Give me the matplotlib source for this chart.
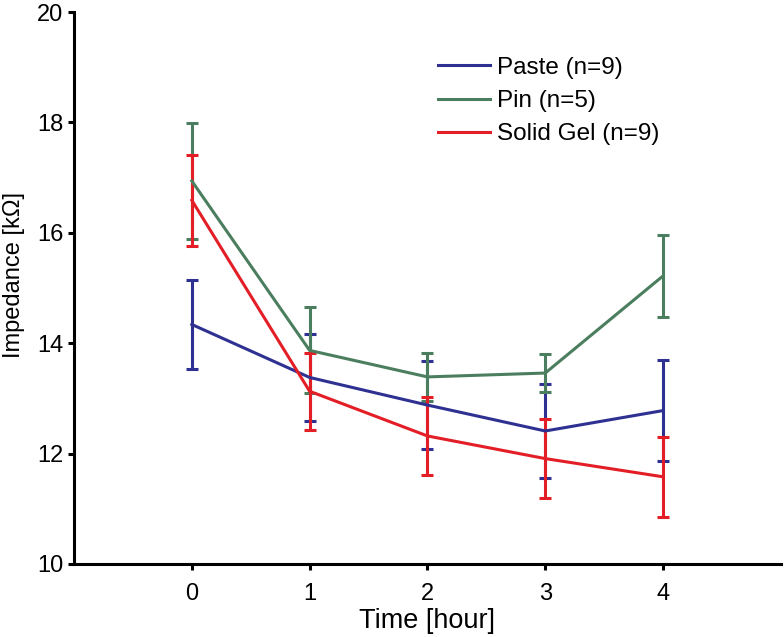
import matplotlib
matplotlib.use("Agg")
import matplotlib.pyplot as plt

plt.rcParams['font.family'] = ['Liberation Sans', 'DejaVu Sans']

# data
hours = [0, 1, 2, 3, 4]
paste_mean = [14.34, 13.38, 12.88, 12.41, 12.78]
paste_err = [0.81, 0.78, 0.80, 0.85, 0.91]
pin_mean = [16.94, 13.87, 13.39, 13.46, 15.22]
pin_err = [1.05, 0.78, 0.43, 0.35, 0.74]
gel_mean = [16.59, 13.13, 12.32, 11.91, 11.58]
gel_err = [0.82, 0.70, 0.71, 0.71, 0.72]

series = [
    ("Paste (n=9)", paste_mean, paste_err, '#2E3192'),
    ("Pin (n=5)", pin_mean, pin_err, '#4B7E5F'),
    ("Solid Gel (n=9)", gel_mean, gel_err, '#E41E26'),
]

fig = plt.figure(figsize=(7.84, 6.37), dpi=100)
ax = fig.add_axes([0.0944, 0.1146, 0.9016, 0.8664])

for label, mean, err, color in series:
    ax.errorbar(hours, mean, yerr=err, color=color, linewidth=2.2,
                elinewidth=2.2, capsize=4, capthick=2.2, label=label)

ax.set_xlim(-1, 5)
ax.set_ylim(10, 20)
ax.set_xticks(hours)
ax.set_yticks([10, 12, 14, 16, 18, 20])

ax.spines['top'].set_visible(False)
ax.spines['right'].set_visible(False)
ax.spines['left'].set_linewidth(2.2)
ax.spines['bottom'].set_linewidth(2.2)
ax.tick_params(axis='both', width=2.2, length=4.5, labelsize=17)
ax.tick_params(axis='x', pad=9)
ax.tick_params(axis='y', pad=3)

ax.set_xlabel('Time [hour]', fontsize=19.5, labelpad=2)
ax.set_ylabel('Impedance [kΩ]', fontsize=17)
ax.yaxis.set_label_coords(-0.069, 0.524)

handles, labels = ax.get_legend_handles_labels()
handles = [h[0] for h in handles]
ax.legend(handles, labels, loc='upper left', bbox_to_anchor=(0.501, 0.937),
          frameon=False, fontsize=17.5, handlelength=2.15, handletextpad=0.3,
          labelspacing=0.47, borderaxespad=0)

fig.savefig('out.png', dpi=100)
